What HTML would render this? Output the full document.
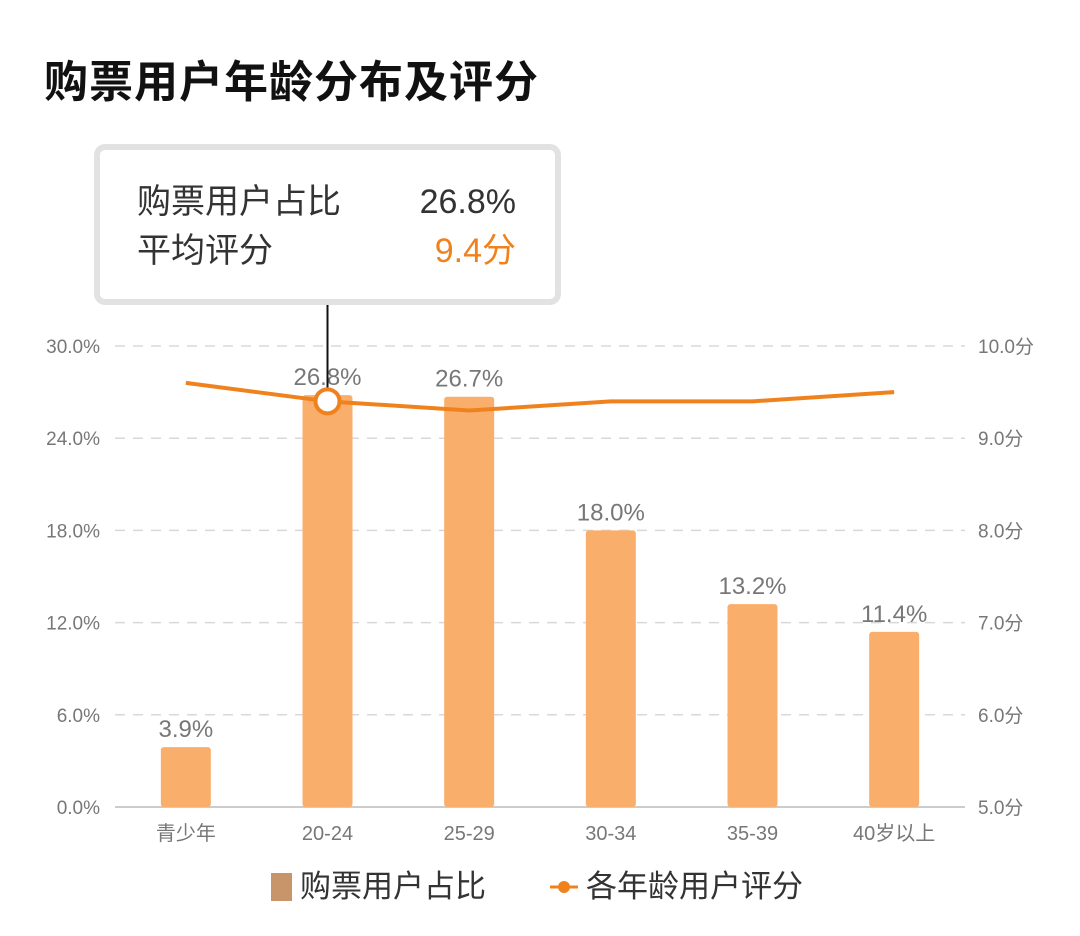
<!DOCTYPE html>
<html><head><meta charset="utf-8">
<style>
body{margin:0;background:#fff;width:1080px;height:936px;overflow:hidden;font-family:"Liberation Sans","Noto Sans CJK SC",sans-serif;}
#title{position:absolute;left:44px;top:46px;font-size:44px;font-weight:bold;color:#111;margin:0;letter-spacing:1px}
svg{position:absolute;left:0;top:0}
</style></head><body>
<h1 id="title">购票用户年龄分布及评分</h1>
<svg id="chart" width="1080" height="936"></svg>
<script>
const categories=["青少年","20-24","25-29","30-34","35-39","40岁以上"];
const shares=[3.9,26.8,26.7,18.0,13.2,11.4];
const ratings=[9.6,9.4,9.3,9.4,9.4,9.5];
const leftTicks=[0,6,12,18,24,30];
const rightTicks=[5,6,7,8,9,10];
const tipIndex=1;

const NS="http://www.w3.org/2000/svg";
const svg=document.getElementById('chart');
const X0=115,X1=965,Y0=807,Y1=346;
const bw=(X1-X0)/categories.length;
const xc=i=>X0+bw*(i+0.5);
const yL=v=>Y0-(v-0)/(30-0)*(Y0-Y1);
const yR=v=>Y0-(v-5)/(10-5)*(Y0-Y1);
const FONT='"Liberation Sans","Noto Sans CJK SC",sans-serif';
function mk(tag,attrs,text){const e=document.createElementNS(NS,tag);for(const k in attrs)e.setAttribute(k,attrs[k]);if(text!==undefined)e.textContent=text;svg.appendChild(e);return e;}

leftTicks.forEach((t,i)=>{
  const y=yL(t);
  if(i>0){const g=mk('line',{x1:X0,x2:X1,y1:y,y2:y,stroke:'#d8d8d8','stroke-width':1.5,'stroke-dasharray':'10 8'});
  
  }
  const l=mk('text',{x:100,y:y+7,'text-anchor':'end','font-size':19,fill:'#777','font-family':FONT},t.toFixed(1)+'%');
  
  
});
rightTicks.forEach(t=>{
  const l=mk('text',{x:978,y:yR(t)+7,'font-size':19,fill:'#777','font-family':FONT},t.toFixed(1)+'分');
  
  
});
const ax=mk('line',{x1:X0,x2:X1,y1:Y0,y2:Y0,stroke:'#ccc','stroke-width':2});



shares.forEach((v,i)=>{
  const b=mk('rect',{x:xc(i)-25,y:yL(v),width:50,height:Y0-yL(v),fill:'#f9ae6b',rx:3});
  
  
  const t=mk('text',{x:xc(i),y:yL(v)-10,'text-anchor':'middle','font-size':24,fill:'#777','font-family':FONT},v.toFixed(1)+'%');
  
  
  const c=mk('text',{x:xc(i),y:840,'text-anchor':'middle','font-size':20,fill:'#777','font-family':FONT},categories[i]);
  
  
});

const pts=ratings.map((v,i)=>xc(i)+','+yR(v)).join(' ');
const line=mk('polyline',{points:pts,fill:'none',stroke:'#f0821e','stroke-width':4,'stroke-linejoin':'round'});



// tooltip pointer
const tx=xc(tipIndex);
const pl=mk('line',{x1:tx,x2:tx,y1:302,y2:yR(ratings[tipIndex]),stroke:'#111','stroke-width':2});


const mc=mk('circle',{cx:tx,cy:yR(ratings[tipIndex]),r:12,fill:'#fff',stroke:'#f0821e','stroke-width':4});



const box=mk('rect',{x:97,y:147,width:461,height:155,rx:8,fill:'#fff',stroke:'#e2e2e2','stroke-width':6});


const t1=mk('text',{x:137,y:213,'font-size':34,fill:'#333','font-family':FONT},'购票用户占比');


const t2=mk('text',{x:516,y:213,'text-anchor':'end','font-size':34,fill:'#333','font-family':FONT},shares[tipIndex].toFixed(1)+'%');


const t3=mk('text',{x:137,y:262,'font-size':34,fill:'#333','font-family':FONT},'平均评分');


const t4=mk('text',{x:516,y:262,'text-anchor':'end','font-size':34,fill:'#f0821e','font-family':FONT},ratings[tipIndex].toFixed(1)+'分');



// legend
const ls=mk('rect',{x:271,y:873,width:21,height:28,fill:'#c8956a'});


const lt=mk('text',{x:300,y:897,'font-size':31,fill:'#333','font-family':FONT},'购票用户占比');


const ll=mk('line',{x1:550,x2:578,y1:887,y2:887,stroke:'#f0821e','stroke-width':3});


const lc=mk('circle',{cx:564,cy:887,r:6,fill:'#f0821e'});


const lt2=mk('text',{x:586,y:897,'font-size':31,fill:'#333','font-family':FONT},'各年龄用户评分');


</script>
</body></html>
